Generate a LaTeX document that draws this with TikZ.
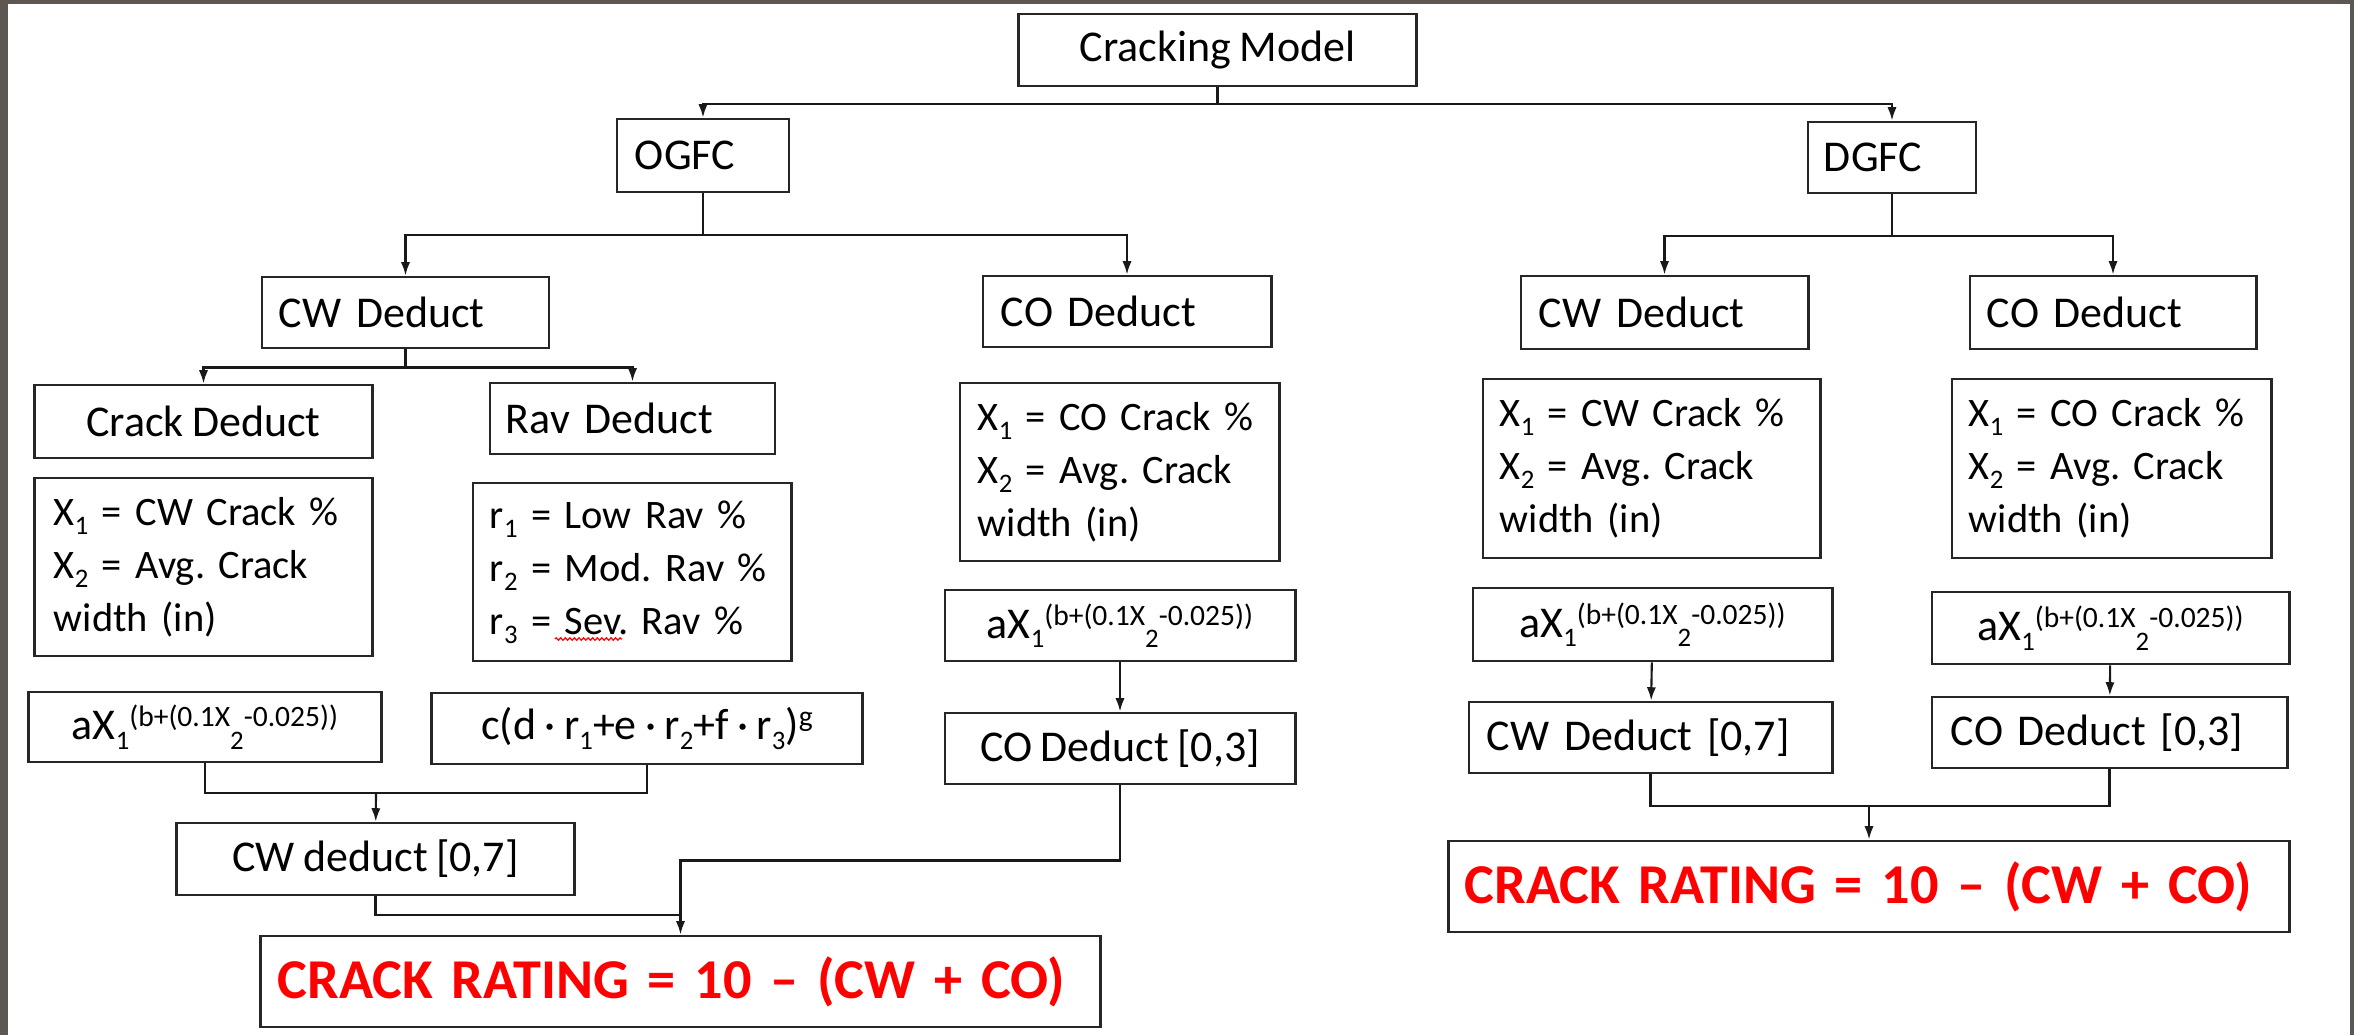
\documentclass[tikz,border=0pt]{standalone}
\usepackage{fontspec}
\setmainfont{Carlito}
\usetikzlibrary{positioning,arrows.meta,decorations.pathmorphing}

\definecolor{frame}{RGB}{92,87,80}
\newcommand{\tightsp}{\spaceskip=0.19em\relax}
\tikzset{
  blk/.style={draw=black!85, line width=0.8pt, fill=white, inner sep=0pt,
    font=\fontsize{12.5}{15.1}\selectfont\frenchspacing\tightsp},
  lbox/.style={blk, align=left},
  cbox/.style={blk, align=center},
  xbox/.style={lbox, font=\fontsize{11.5}{15.1}\selectfont\frenchspacing\tightsp},
  ratebox/.style={blk, align=left, text=red, font=\fontsize{16}{19}\selectfont\bfseries\frenchspacing},
  link/.style={line width=0.6pt, draw=black!90},
  >={Latex[length=3.8pt,width=2.6pt]}
}
\newcommand{\lowx}[1]{\raisebox{-2.6pt}{\fontsize{7.6}{8}\selectfont #1}}
\newcommand{\highx}[1]{\raisebox{3.8pt}{\fontsize{8.4}{9}\selectfont #1}}
\newcommand{\expx}{aX\lowx{1}\highx{(b+(0.1X}\lowx{2}\highx{-0.025))}}

\begin{document}
\begin{tikzpicture}[x=0.01cm, y=-0.01cm]
\useasboundingbox (0,0) rectangle (2354,1035);
\fill[frame] (0,0) rectangle (2354,1035);
\fill[white] (8,4) rectangle (2350,1035);

% top
\node[cbox, minimum width=3.97cm, minimum height=0.72cm] (model) at (1217.5,50) {Cracking Model};
\node[lbox, text width=1.36cm, inner xsep=0.18cm, minimum height=0.73cm] (ogfc) at (703,155.5) {OGFC};
\node[lbox, text width=1.36cm, inner xsep=0.16cm, minimum height=0.71cm] (dgfc) at (1892,157.5) {DGFC};

% OGFC side
\node[lbox, text width=2.53cm, inner xsep=0.17cm, minimum height=0.71cm] (ocw) at (405.5,312.5) {CW Deduct};
\node[lbox, text width=2.52cm, inner xsep=0.18cm, minimum height=0.71cm] (oco) at (1127,311.5) {CO Deduct};
\node[cbox, minimum width=3.37cm, minimum height=0.73cm] (crk) at (203.5,421.5) {Crack Deduct};
\node[lbox, text width=2.53cm, inner xsep=0.16cm, minimum height=0.71cm] (rav) at (632.5,418.5) {Rav Deduct};
\node[xbox, text width=2.99cm, inner xsep=0.19cm, minimum height=1.78cm] (ocwx) at (203.5,567)
  {\mbox{X\lowx{1} = CW Crack \%}\\\mbox{X\lowx{2} = Avg. Crack}\\width (in)};
\node[xbox, text width=2.84cm, inner xsep=0.17cm, minimum height=1.78cm] (ravx) at (632,572)
  {\mbox{r\lowx{1} = Low Rav \%}\\\mbox{r\lowx{2} = Mod. Rav \%}\\\mbox{r\lowx{3} = Sev. Rav \%}};
\node[xbox, text width=2.83cm, inner xsep=0.18cm, minimum height=1.78cm] (ocox) at (1119.5,472)
  {\mbox{X\lowx{1} = CO Crack \%}\\\mbox{X\lowx{2} = Avg. Crack}\\width (in)};
\node[cbox, minimum width=3.52cm, minimum height=0.70cm] (ocwf) at (205,727) {\expx};
\node[cbox, minimum width=4.30cm, minimum height=0.71cm] (ravf) at (647,728.5) {c(d · r\lowx{1}+e · r\lowx{2}+f · r\lowx{3})\highx{g}};
\node[cbox, minimum width=3.50cm, minimum height=0.71cm] (ocof) at (1120,625.5) {\expx};
\node[cbox, minimum width=3.50cm, minimum height=0.71cm] (ocod) at (1120,748.5) {CO Deduct [0,3]};
\node[cbox, minimum width=3.97cm, minimum height=0.72cm] (ocwd) at (375.5,859) {CW deduct [0,7]};
\node[ratebox, text width=8.05cm, inner xsep=0.17cm, minimum height=0.91cm] (orate) at (680.5,981.5)
  {\mbox{CRACK RATING = 10 – (CW + CO)}};

% DGFC side
\node[lbox, text width=2.51cm, inner xsep=0.18cm, minimum height=0.73cm] (dcw) at (1664.5,312.5) {CW Deduct};
\node[lbox, text width=2.52cm, inner xsep=0.17cm, minimum height=0.73cm] (dco) at (2113,312.5) {CO Deduct};
\node[xbox, text width=3.03cm, inner xsep=0.17cm, minimum height=1.79cm] (dcwx) at (1651.5,468.5)
  {\mbox{X\lowx{1} = CW Crack \%}\\\mbox{X\lowx{2} = Avg. Crack}\\width (in)};
\node[xbox, text width=2.85cm, inner xsep=0.17cm, minimum height=1.79cm] (dcox) at (2111.5,468.5)
  {\mbox{X\lowx{1} = CO Crack \%}\\\mbox{X\lowx{2} = Avg. Crack}\\width (in)};
\node[cbox, minimum width=3.59cm, minimum height=0.73cm] (dcwf) at (1652.5,624.5) {\expx};
\node[cbox, minimum width=3.57cm, minimum height=0.72cm] (dcof) at (2110.5,628) {\expx};
\node[lbox, text width=3.27cm, inner xsep=0.18cm, minimum height=0.71cm] (dcwd) at (1650.5,737.5) {CW Deduct [0,7]};
\node[lbox, text width=3.17cm, inner xsep=0.19cm, minimum height=0.71cm] (dcod) at (2109.5,732.5) {CO Deduct [0,3]};
\node[ratebox, text width=8.08cm, inner xsep=0.16cm, minimum height=0.91cm] (drate) at (1869,886.5)
  {\mbox{CRACK RATING = 10 – (CW + CO)}};

% connectors
\draw[link,->] (model.south) -- ++(0,17) -| (ogfc);
\draw[link,->] (model.south) -- ++(0,17) -| (dgfc);
\draw[link,->] (ogfc.south) -- ++(0,42) -| (ocw);
\draw[link,->] (ogfc.south) -- ++(0,42) -| (oco);
\draw[link,->] (dgfc.south) -- ++(0,42) -| (dcw);
\draw[link,->] (dgfc.south) -- ++(0,42) -| (dco);
\draw[link,->] (ocw.south) -- ++(0,18) -| (crk);
\draw[link,->] (ocw.south) -- ++(0,18) -| (rav);

\coordinate (m1) at (376,793);
\draw[link] (ocwf.south) |- (m1);
\draw[link] (ravf.south) |- (m1);
\draw[link,->] (m1) -- (ocwd);
\draw[link,->] (ocof) -- (ocod);
\coordinate (m2) at (680.5,915);
\draw[link] (ocwd.south) |- (m2);
\draw[link,->] (ocod.south) -- ++(0,75) -| (orate);

\draw[link,->] (dcwf) -- (dcwd);
\draw[link,->] (dcof) -- (dcod);
\coordinate (m3) at (1869,806);
\draw[link] (dcwd.south) |- (m3);
\draw[link] (dcod.south) |- (m3);
\draw[link,->] (m3) -- (drate);

% spell-check mark
\draw[red, line width=0.35pt, decorate, decoration={zigzag, amplitude=0.35pt, segment length=1.3pt}] (555,639) -- (622,639);
\end{tikzpicture}
\end{document}
